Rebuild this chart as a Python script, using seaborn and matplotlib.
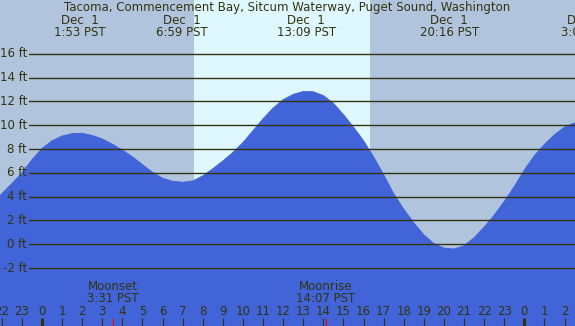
"""
Tide chart: Tacoma, Commencement Bay, Sitcum Waterway
"""
import numpy as np
import matplotlib
matplotlib.use("Agg")
import matplotlib.pyplot as plt
import matplotlib.transforms as mtransforms
import seaborn as sns

# tide height (ft) every half hour, hours from midnight Dec 1
hours = np.arange(-3.0, 27.01, 0.5)
heights = [
    2.6, 3.4, 4.25, 5.1, 6.0, 7.1,
    8.05, 8.7, 9.1, 9.3, 9.33, 9.15, 8.85, 8.42, 7.92, 7.35,
    6.7, 6.05, 5.55, 5.3, 5.21, 5.32, 5.75, 6.35, 7.0, 7.72,
    8.55, 9.55, 10.55, 11.45, 12.15, 12.6, 12.84, 12.82, 12.5, 11.85,
    10.9, 9.85, 8.7, 7.35, 5.85, 4.25, 2.95, 1.8, 0.8, 0.05,
    -0.32, -0.4, -0.12, 0.55, 1.45, 2.45, 3.6, 4.85, 6.25, 7.45,
    8.4, 9.2, 9.85, 10.2, 10.35,
]
assert len(heights) == len(hours)

title = "Tacoma, Commencement Bay, Sitcum Waterway, Puget Sound, Washington"

sunrise = 7.56
sunset = 16.32

# high / low tide labels along the top
extreme_hours = [1.883, 6.983, 13.15, 20.267, 27.08]
extreme_dates = ["Dec  1", "Dec  1", "Dec  1", "Dec  1", "Dec  2"]
extreme_times = ["1:53 PST", "6:59 PST", "13:09 PST", "20:16 PST", "3:05 PST"]

moon_names = ["Moonset", "Moonrise"]
moon_hours = [3.517, 14.117]
moon_times = ["3:31 PST", "14:07 PST"]

levels = [-2, 0, 2, 4, 6, 8, 10, 12, 14, 16]
hour_ticks = list(range(-2, 27))

W, H = 575, 326
NIGHT = "#b0c4de"
DAY = "#dff7ff"
WATER = "#4164d9"
INK = "#33330d"
FS = 8.5

sns.set_style("white")
plt.rcParams["font.family"] = ["DejaVu Sans"]

fig = plt.figure(figsize=(W / 100, H / 100), dpi=100)
ax = fig.add_axes([0, 0, 1, 1])
ax.set_xlim(-2.09, 26.52)
ax.set_ylim(-6.87, 20.53)
ax.axis("off")

# x in hours, y in axes fraction
trans = mtransforms.blended_transform_factory(ax.transData, ax.transAxes)
ytrans = mtransforms.blended_transform_factory(ax.transAxes, ax.transData)


def ypix(p):
    return 1 - p / H


ax.axvspan(-5, 30, color=NIGHT, lw=0, zorder=0)
ax.axvspan(sunrise, sunset, color=DAY, lw=0, zorder=0)

ax.fill_between(hours, heights, -10, color=WATER, lw=0, zorder=1)
sns.lineplot(x=hours, y=heights, ax=ax, color=WATER, lw=0.6, zorder=1)

for lv in levels:
    ax.axhline(lv, xmin=29 / W, xmax=1, color=INK, lw=1.0, zorder=2)
    ax.text(27 / W, lv, f"{lv} ft", transform=ytrans,
            ha="right", va="center", fontsize=FS, color=INK, zorder=3)

ax.text(0.5, ypix(8), title, transform=ax.transAxes, ha="center", va="center",
        fontsize=FS, color=INK)

for xh, d, t in zip(extreme_hours, extreme_dates, extreme_times):
    ax.text(xh, ypix(20), d, transform=trans, ha="center", va="center", fontsize=FS, color=INK)
    ax.text(xh, ypix(32), t, transform=trans, ha="center", va="center", fontsize=FS, color=INK)

for xh, n, t in zip(moon_hours, moon_names, moon_times):
    ax.text(xh, ypix(287), n, transform=trans, ha="center", va="center", fontsize=FS, color=INK)
    ax.text(xh, ypix(299), t, transform=trans, ha="center", va="center", fontsize=FS, color=INK)
    ax.vlines(xh, ypix(H), ypix(318), transform=trans, color="red", lw=0.8, zorder=4)

for h in hour_ticks:
    lw = 2.2 if h % 24 == 0 else 0.8
    ax.vlines(h, ypix(H), ypix(318), transform=trans, color=INK, lw=lw, zorder=3)
    ax.text(h, ypix(311.5), str(h % 24), transform=trans, ha="center", va="center",
            fontsize=FS, color=INK)

fig.savefig("out.png", dpi=100)
